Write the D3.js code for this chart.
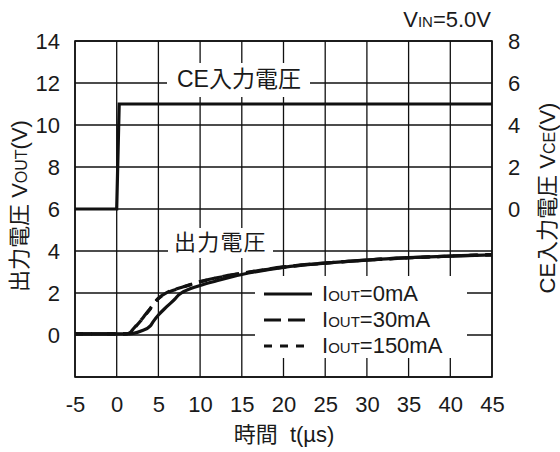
<!DOCTYPE html>
<html><head><meta charset="utf-8">
<script src="https://cdn.jsdelivr.net/npm/d3@7"></script>
<style>
html,body{margin:0;padding:0;background:#fff;}
text{font-family:"Liberation Sans",Arial,"Noto Sans CJK JP",sans-serif;fill:#1a1a1a;}
</style></head>
<body><svg id="c" width="560" height="452"></svg>
<script>
// ---- data ----
const xTicks = [-5,0,5,10,15,20,25,30,35,40,45];
const yLeftTicks = [0,2,4,6,8,10,12,14];
const yRightTicks = [0,2,4,6,8];
const ceTime = [-5, 0, 0.3, 45];
const ceVolt = [0, 0, 5, 5];
const tOut0 = [-5, 1, 2, 3, 4, 4.4, 5, 6, 7, 7.4, 8, 8.8, 10, 12, 15, 20, 25, 30, 35, 40, 45];
const vOut0 = [0.05, 0.05, 0.08, 0.2, 0.42, 0.65, 0.95, 1.35, 1.72, 1.9, 2.06, 2.2, 2.36, 2.58, 2.88, 3.22, 3.42, 3.57, 3.68, 3.76, 3.82];
const tOut30 = [-5, 1, 1.5, 2, 3, 3.4, 4, 5, 6, 7, 8, 10, 12, 15, 20, 25, 30, 35, 40, 45];
const vOut30 = [0.05, 0.05, 0.08, 0.3, 0.75, 0.95, 1.25, 1.75, 2.02, 2.17, 2.3, 2.54, 2.73, 2.94, 3.24, 3.43, 3.57, 3.68, 3.76, 3.83];
const tOut150 = [-5, 1, 1.5, 2, 3, 3.4, 4, 5, 6, 7, 8, 10, 12, 15, 20, 25, 30, 35, 40, 45];
const vOut150 = [0.05, 0.05, 0.08, 0.28, 0.73, 0.93, 1.23, 1.73, 2.0, 2.16, 2.29, 2.53, 2.72, 2.93, 3.23, 3.42, 3.57, 3.67, 3.76, 3.82];
const legendLabels = [["I","OUT","=0mA"],["I","OUT","=30mA"],["I","OUT","=150mA"]];
const dashes = [null, "17,7", "8,8"];

// ---- layout ----
const L=75, R=492, T=41, B=377;
const svg = d3.select("#c");
const x = d3.scaleLinear([-5,45],[L,R]);
const yL = d3.scaleLinear([-2,14],[B,T]);
const yR = d3.scaleLinear([-8,8],[B,T]);
const FS = 22;
const fmt = d => String(d);

// grid
const g = svg.append("g");
g.selectAll("line.v").data(d3.range(-5,46,5)).join("line")
  .attr("x1",d=>x(d)).attr("x2",d=>x(d)).attr("y1",T).attr("y2",B)
  .attr("stroke","#111").attr("stroke-width",1.3);
g.selectAll("line.h").data(d3.range(-2,15,2)).join("line")
  .attr("y1",d=>yL(d)).attr("y2",d=>yL(d)).attr("x1",L).attr("x2",R)
  .attr("stroke","#111").attr("stroke-width",1.3);
svg.append("rect").attr("x",L).attr("y",T).attr("width",R-L).attr("height",B-T)
  .attr("fill","none").attr("stroke","#111").attr("stroke-width",1.6);

// white label boxes
svg.append("rect").attr("x",167).attr("y",63).attr("width",143).attr("height",34).attr("fill","#fff");
svg.append("rect").attr("x",168).attr("y",228).attr("width",105).attr("height",30).attr("fill","#fff");
svg.append("rect").attr("x",255).attr("y",276).attr("width",212).attr("height",82).attr("fill","#fff");

// axes
const axL = svg.append("g").attr("transform",`translate(${L},0)`)
  .call(d3.axisLeft(yL).tickValues(yLeftTicks).tickFormat(fmt).tickSize(0).tickPadding(15));
const axR = svg.append("g").attr("transform",`translate(${R},0)`)
  .call(d3.axisRight(yR).tickValues(yRightTicks).tickFormat(fmt).tickSize(0).tickPadding(16));
const axB = svg.append("g").attr("transform",`translate(0,${B})`)
  .call(d3.axisBottom(x).tickValues(xTicks).tickFormat(fmt).tickSize(0).tickPadding(19));
[axL,axR,axB].forEach(a=>{
  a.select(".domain").remove();
  a.selectAll("text").attr("font-size",FS).attr("fill","#1a1a1a")
    .style("font-family","'Liberation Sans',Arial,sans-serif");
});

// curves
const line = d3.line().curve(d3.curveMonotoneX);
const ceLine = d3.line();
svg.append("path")
  .attr("d", ceLine(ceTime.map((t,i)=>[x(t), yR(ceVolt[i])])))
  .attr("fill","none").attr("stroke","#111").attr("stroke-width",3.2);
const series = [[tOut0,vOut0],[tOut30,vOut30],[tOut150,vOut150]];
series.forEach((s,k)=>{
  svg.append("path")
    .attr("d", line(s[0].map((t,i)=>[x(t), yL(s[1][i])])))
    .attr("fill","none").attr("stroke","#111").attr("stroke-width",3.2)
    .attr("stroke-dasharray", dashes[k]);
});

// labels inside plot
svg.append("text").attr("x",177).attr("y",87).attr("font-size",23).text("CE入力電圧");
svg.append("text").attr("x",174).attr("y",250).attr("font-size",22).attr("letter-spacing",1.2).text("出力電圧");

// legend
legendLabels.forEach((lb,i)=>{
  const yy = 294 + i*26;
  svg.append("line").attr("x1",264).attr("x2",312).attr("y1",yy).attr("y2",yy)
    .attr("stroke","#111").attr("stroke-width",3.2).attr("stroke-dasharray",dashes[i]);
  const t = svg.append("text").attr("x",322).attr("y",yy+7).attr("font-size",FS);
  t.append("tspan").text(lb[0]);
  t.append("tspan").attr("font-size",15).text(lb[1]);
  t.append("tspan").text(lb[2]);
});

// VIN
const vin = svg.append("text").attr("x",491).attr("y",27).attr("text-anchor","end").attr("font-size",FS);
vin.append("tspan").text("V");
vin.append("tspan").attr("font-size",15).text("IN");
vin.append("tspan").text("=5.0V");

// axis titles
const lt = svg.append("text").attr("transform","translate(27,206) rotate(-90)")
  .attr("text-anchor","middle").attr("font-size",FS).style("white-space","pre");
lt.append("tspan").text("出力電圧 V");
lt.append("tspan").attr("font-size",16).text("OUT");
lt.append("tspan").text("(V)");

const rt = svg.append("text").attr("transform","translate(555,198) rotate(-90)")
  .attr("text-anchor","middle").attr("font-size",FS).style("white-space","pre");
rt.append("tspan").text("CE入力電圧 V");
rt.append("tspan").attr("font-size",16).text("CE");
rt.append("tspan").text("(V)");

svg.append("text").attr("x",284).attr("y",442).attr("text-anchor","middle")
  .attr("font-size",FS).style("white-space","pre").text("時間  t(µs)");
</script></body></html>
